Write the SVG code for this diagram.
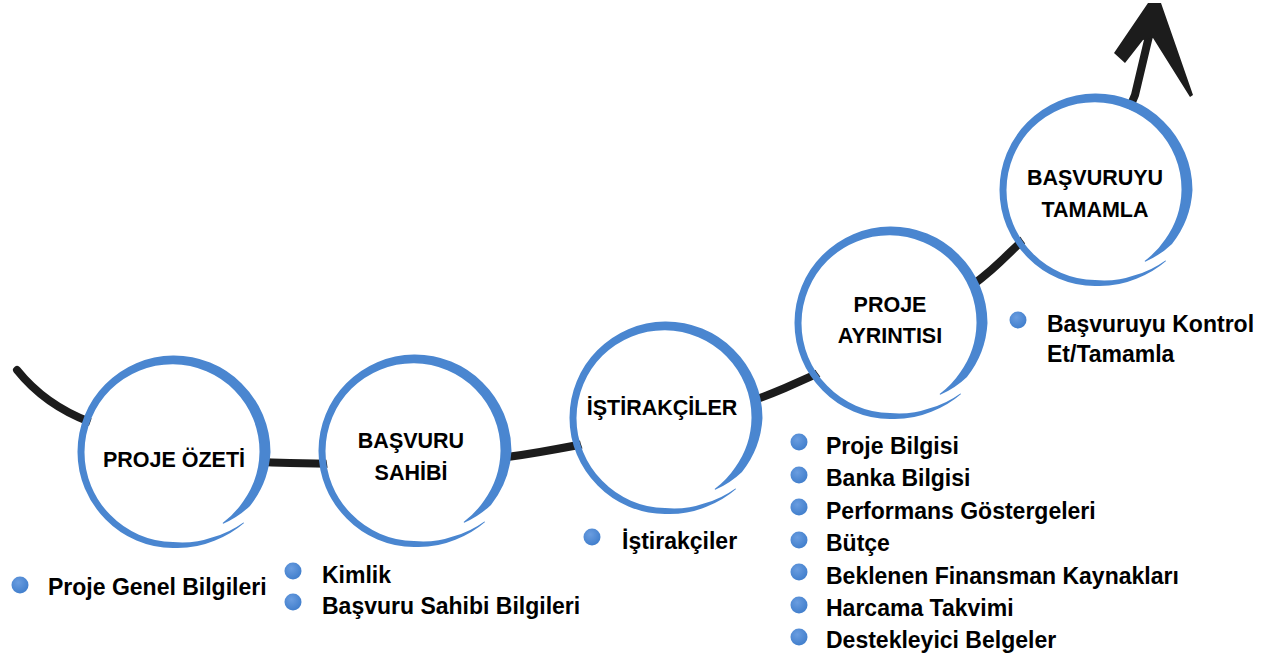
<svg xmlns="http://www.w3.org/2000/svg" xmlns:xlink="http://www.w3.org/1999/xlink" width="1282" height="662" viewBox="0 0 1282 662">
<style>
.lbl{font-family:"Liberation Sans",Arial,sans-serif;font-weight:bold;font-size:21.5px;fill:#000;text-anchor:middle}
.itm{font-family:"Liberation Sans",Arial,sans-serif;font-weight:bold;font-size:23px;fill:#000}
.ring{fill:#4a86d0}
.disc{fill:#fff}
.dot{fill:url(#dotg)}
.curve{fill:none;stroke:#1c1c1c;stroke-width:8;stroke-linecap:round;stroke-linejoin:round}
</style>
<defs>
<radialGradient id="dotg" cx="0.4" cy="0.35" r="0.7">
<stop offset="0" stop-color="#6a9de0"/>
<stop offset="1" stop-color="#3f7dcb"/>
</radialGradient>
<path id="ring" class="ring" d="M50.2,71.7 A91,91 0 0 0 77.0,53.9 A95.5,95.5 0 0 0 97.5,0 A97,97 0 0 0 68.6,-68.6 A96,96 0 0 0 0,-96.5 A96,96 0 0 0 -67.7,-67.7 A95.5,95.5 0 0 0 -95.5,0 A95,95 0 0 0 -67.4,67.4 A95.5,95.5 0 0 0 0,96 A97,97 0 0 0 41.4,88.8 A99,99 0 0 0 71.1,71.1 L70.4,70.4 A97,97 0 0 1 39.7,85.2 A92,92 0 0 1 0,90 A89.5,89.5 0 0 1 -62.8,62.8 A89,89 0 0 1 -88.5,0 A88.5,88.5 0 0 1 -62.4,-62.4 A88,88 0 0 1 0,-87.7 A88,88 0 0 1 61.6,-61.6 A87,87 0 0 1 86.5,0 A86.5,86.5 0 0 1 70.3,49.2 A86,86 0 0 1 49.6,70.9 Z"/>
</defs>
<rect width="1282" height="662" fill="#fff"/>
<g id="connectors">
<path class="curve" d="M17,370 Q45,405 90,422 C140,441 200,462 290,463 C390,465 460,466 540,452 C620,438 710,420 785,388 C850,360 950,310 1000,262 C1050,214 1110,160 1135,95 L1149,36"/>
<polygon fill="#1c1c1c" points="1148,3 1161,3 1176,46 1193,95 1190,97 1153,38 1143,40 1125,63 1114,53"/>
</g>
<g id="node-proje-ozeti">
<circle class="disc" cx="173" cy="452" r="88"/>
<use xlink:href="#ring" href="#ring" transform="translate(173,452)"/>
<text class="lbl" x="174" y="467">PROJE ÖZETİ</text>
</g>
<g id="node-basvuru-sahibi">
<circle class="disc" cx="414" cy="451" r="88"/>
<use xlink:href="#ring" href="#ring" transform="translate(414,451)"/>
<text class="lbl" x="411" y="448">BAŞVURU</text>
<text class="lbl" x="411" y="480">SAHİBİ</text>
</g>
<g id="node-istirakciler">
<circle class="disc" cx="665" cy="418" r="88"/>
<use xlink:href="#ring" href="#ring" transform="translate(665,418)"/>
<text class="lbl" x="662" y="415">İŞTİRAKÇİLER</text>
</g>
<g id="node-proje-ayrintisi">
<circle class="disc" cx="890" cy="323" r="88"/>
<use xlink:href="#ring" href="#ring" transform="translate(890,323)"/>
<text class="lbl" x="890" y="312">PROJE</text>
<text class="lbl" x="890" y="343">AYRINTISI</text>
</g>
<g id="node-basvuruyu-tamamla">
<circle class="disc" cx="1095" cy="190" r="88"/>
<use xlink:href="#ring" href="#ring" transform="translate(1095,190)"/>
<text class="lbl" x="1095" y="185">BAŞVURUYU</text>
<text class="lbl" x="1095" y="217">TAMAMLA</text>
</g>
<g id="list-proje-ozeti">
<circle class="dot" cx="20" cy="585" r="8.5"/>
<text class="itm" x="48" y="595">Proje Genel Bilgileri</text>
</g>
<g id="list-basvuru-sahibi">
<circle class="dot" cx="293" cy="571" r="8.5"/>
<text class="itm" x="322" y="583">Kimlik</text>
<circle class="dot" cx="293" cy="602" r="8.5"/>
<text class="itm" x="322" y="614">Başvuru Sahibi Bilgileri</text>
</g>
<g id="list-istirakciler">
<circle class="dot" cx="592" cy="537" r="8.5"/>
<text class="itm" x="622" y="549">İştirakçiler</text>
</g>
<g id="list-proje-ayrintisi">
<circle class="dot" cx="799" cy="442" r="8.5"/>
<text class="itm" x="826" y="454">Proje Bilgisi</text>
<circle class="dot" cx="799" cy="475" r="8.5"/>
<text class="itm" x="826" y="486">Banka Bilgisi</text>
<circle class="dot" cx="799" cy="507" r="8.5"/>
<text class="itm" x="826" y="519">Performans Göstergeleri</text>
<circle class="dot" cx="799" cy="540" r="8.5"/>
<text class="itm" x="826" y="551">Bütçe</text>
<circle class="dot" cx="799" cy="572" r="8.5"/>
<text class="itm" x="826" y="584">Beklenen Finansman Kaynakları</text>
<circle class="dot" cx="799" cy="605" r="8.5"/>
<text class="itm" x="826" y="616">Harcama Takvimi</text>
<circle class="dot" cx="799" cy="637" r="8.5"/>
<text class="itm" x="826" y="648">Destekleyici Belgeler</text>
</g>
<g id="list-basvuruyu-tamamla">
<circle class="dot" cx="1018" cy="320" r="8.5"/>
<text class="itm" x="1047" y="332">Başvuruyu Kontrol</text>
<text class="itm" x="1047" y="362">Et/Tamamla</text>
</g>
</svg>
